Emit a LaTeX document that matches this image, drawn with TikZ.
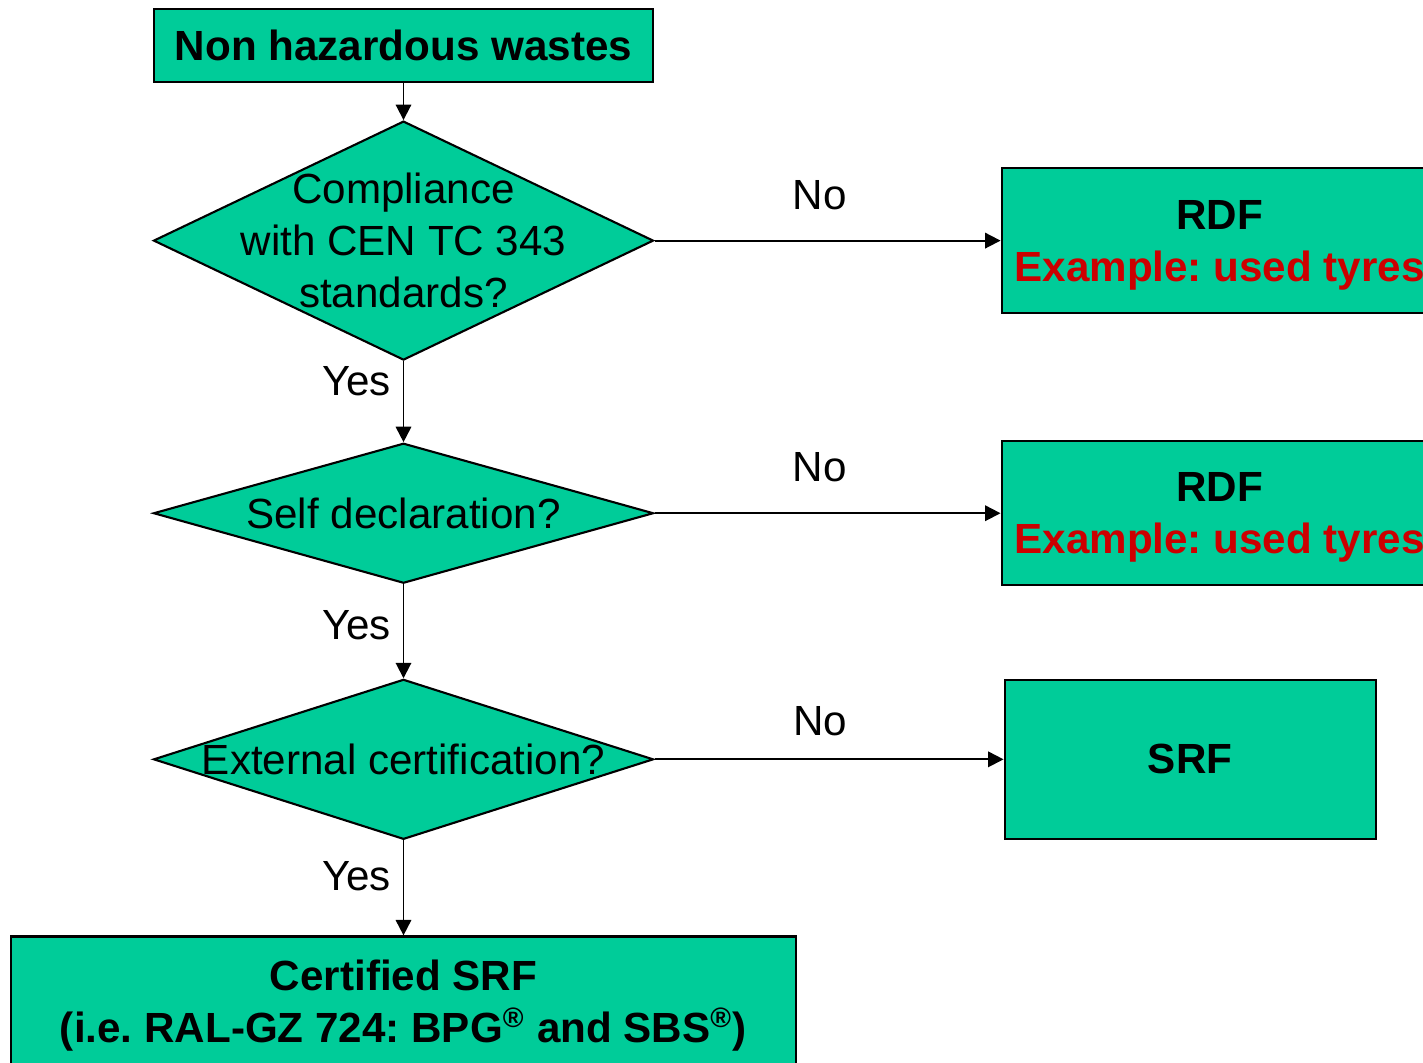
\documentclass[tikz,border=0pt]{standalone}
\usepackage{fontspec}
\setmainfont{Liberation Sans}
\usepackage{xcolor}
\usepackage{tikz}
\usetikzlibrary{shapes,arrows,positioning,calc,arrows.meta}
\definecolor{flowgreen}{RGB}{0,204,153}
\definecolor{flowred}{RGB}{204,0,0}
\newcommand{\flowfont}{\fontsize{12pt}{14.8pt}\selectfont\frenchspacing}

\begin{document}
\begin{tikzpicture}[
    font=\flowfont,
    box/.style={draw, fill=flowgreen, line width=0.6pt, align=center, inner sep=0pt, font=\flowfont\bfseries},
    decision/.style={draw, diamond, fill=flowgreen, line width=0.6pt, inner sep=0pt, minimum width=5cm},
    flow/.style={-{Triangle[length=4.4pt,width=4.4pt]}, line width=0.55pt}
]
    \useasboundingbox (0,0) rectangle (14.23,-10.62);

    \node [box, minimum width=4.99cm, minimum height=0.73cm] (waste) at (4.035,-0.455) {Non hazardous wastes};

    % decisions
    \node [decision, minimum height=2.39cm, below=0.37cm of waste] (cen) {};
    \node [align=center] (centext) at (cen) {Compliance\\with CEN TC 343\\standards?};
    \node [decision, minimum height=1.40cm, below=0.81cm of cen] (self) {};
    \node (selftext) at (self) {Self declaration?};
    \node [decision, minimum height=1.60cm, below=0.94cm of self] (ext) {};
    \node (exttext) at (ext) {External certification?};

    % outcomes
    \node [box, text depth=0pt, minimum width=4.36cm, minimum height=1.45cm, right=3.46cm of cen] (rdfa) {RDF\\\textcolor{flowred}{Example: used tyres}};
    \node [box, text depth=0pt, minimum width=4.36cm, minimum height=1.44cm, right=3.46cm of self] (rdfb) {RDF\\\textcolor{flowred}{Example: used tyres}};
    \node [box, minimum width=3.71cm, minimum height=1.59cm, right=3.49cm of ext] (srf) {SRF};
    \node [box, text depth=0pt, minimum width=7.85cm, minimum height=1.30cm, below=0.95cm of ext] (certified) {Certified SRF\\(i.e. RAL-GZ 724: BPG\textsuperscript{®} and SBS\textsuperscript{®})};

    \draw [flow] (waste.south) -- (cen.north);
    \draw [flow] (cen.south) -- node [left, pos=0.25] (yesa) {Yes} (self.north);
    \draw [flow] (self.south) -- node [left, pos=0.44] (yesb) {Yes} (ext.north);
    \draw [flow] (ext.south) -- node [left, pos=0.38] (yesc) {Yes} (certified.north);

    \draw [flow] (cen.east) -- node [midway, yshift=0.45cm, xshift=-0.08cm] (noa) {No} (rdfa.west);
    \draw [flow] (self.east) -- node [midway, yshift=0.46cm, xshift=-0.08cm] (nob) {No} (rdfb.west);
    \draw [flow] (ext.east) -- node [midway, yshift=0.38cm, xshift=-0.09cm] (noc) {No} (srf.west);
\end{tikzpicture}
\end{document}
